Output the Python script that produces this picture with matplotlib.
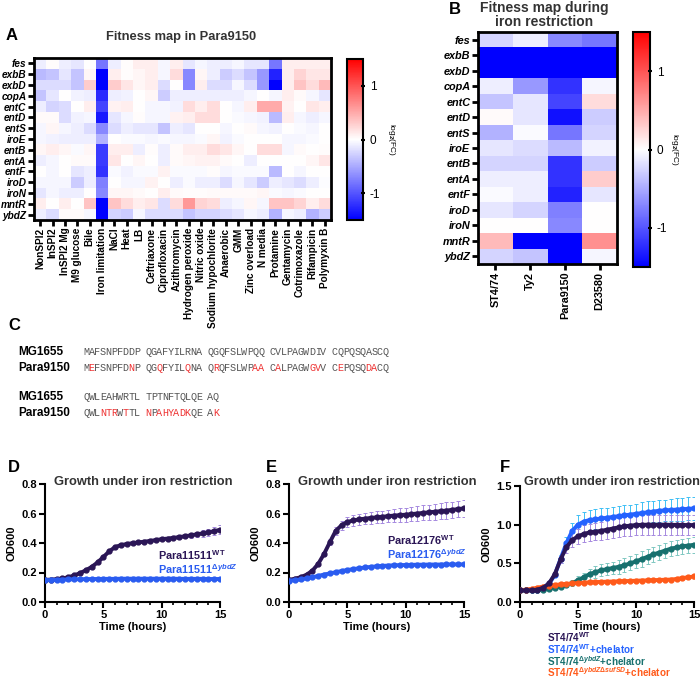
import matplotlib
matplotlib.use('Agg')
import matplotlib.pyplot as plt
import numpy as np
from matplotlib.colors import LinearSegmentedColormap
from matplotlib.ticker import MultipleLocator

plt.rcParams['font.family'] = ['Liberation Sans', 'DejaVu Sans']
plt.rcParams['mathtext.fontset'] = 'custom'
plt.rcParams['mathtext.rm'] = 'Liberation Sans:bold'
plt.rcParams['mathtext.it'] = 'Liberation Sans:italic:bold'
plt.rcParams['mathtext.bf'] = 'Liberation Sans:bold'
plt.rcParams['axes.unicode_minus'] = False

# ---- data ----
genes = ['fes', 'exbB', 'exbD', 'copA', 'entC', 'entD', 'entS', 'iroE',
         'entB', 'entA', 'entF', 'iroD', 'iroN', 'mntR', 'ybdZ']
conditions = ['NonSPI2', 'InSPI2', 'InSPI2 Mg', 'M9 glucose', 'Bile', 'Iron limitation',
              'NaCl', 'Heat', 'LB', 'Ceftriaxone', 'Ciprofloxacin', 'Azithromycin',
              'Hydrogen peroxide', 'Nitric oxide', 'Sodium hypochlorite', 'Anaerobic',
              'GMM', 'Zinc overload', 'N media', 'Protamine', 'Gentamycin',
              'Cotrimoxazole', 'Rifampicin', 'Polymyxin B']
fitness_a = [
    [-0.1, 0.02, -0.1, -0.15, 0.0, -0.8, -0.1, 0.02, 0.1, 0.1, -0.05, 0.1, -0.15, -0.05, -0.1, -0.1, -0.05, -0.15, -0.15, -0.8, 0.1, 0.1, 0.1, 0.1],
    [-0.4, -0.35, -0.15, -0.35, 0.05, -1.5, 0.1, 0.02, 0.05, 0.1, -0.05, 0.2, -0.7, 0.05, -0.1, -0.3, -0.2, -0.35, -0.6, -1.3, 0.1, 0.25, 0.15, 0.15],
    [-0.2, -0.2, -0.2, -0.35, 0.3, -1.5, 0.3, 0.15, 0.05, 0.1, -0.2, 0.0, -0.7, 0.1, -0.2, -0.2, -0.05, -0.2, -0.6, -1.5, 0.1, 0.35, 0.2, 0.4],
    [-0.35, -0.15, 0.0, -0.08, -0.1, -1.25, -0.1, -0.08, 0.0, 0.05, -0.3, -0.1, -0.1, -0.1, -0.1, -0.1, -0.1, -0.05, 0.0, -0.05, 0.1, 0.03, -0.05, -0.15],
    [-0.1, -0.25, -0.2, 0.0, 0.1, -1.1, 0.08, 0.1, 0.0, -0.05, -0.05, -0.08, 0.2, 0.1, 0.2, 0.0, -0.05, 0.1, 0.5, 0.5, 0.08, 0.0, 0.15, 0.1],
    [0.03, 0.03, -0.2, -0.08, -0.05, -1.35, -0.15, -0.05, 0.02, -0.05, -0.05, 0.08, 0.1, 0.2, 0.2, 0.0, -0.03, -0.05, -0.08, -0.4, 0.1, -0.05, -0.1, -0.05],
    [-0.05, 0.05, -0.05, -0.1, -0.2, -0.7, -0.2, -0.1, -0.15, -0.15, -0.35, -0.1, -0.15, 0.0, 0.0, -0.05, 0.0, 0.03, -0.05, -0.08, 0.0, -0.03, -0.05, 0.0],
    [-0.05, -0.08, -0.1, -0.1, -0.1, -0.45, 0.0, -0.03, -0.03, -0.05, -0.03, -0.05, -0.05, -0.03, 0.05, -0.08, -0.03, 0.0, 0.0, 0.0, -0.05, -0.05, -0.03, 0.0],
    [0.05, 0.1, 0.05, -0.03, 0.05, -1.15, 0.1, 0.1, -0.1, 0.02, -0.1, 0.03, 0.1, 0.1, 0.2, 0.15, 0.05, 0.0, 0.2, 0.2, -0.05, 0.03, 0.0, 0.02],
    [-0.1, -0.05, 0.0, 0.03, 0.03, -1.15, 0.15, 0.0, 0.05, 0.0, -0.1, 0.03, 0.05, 0.08, 0.08, 0.03, 0.0, -0.1, 0.0, 0.0, 0.0, 0.0, 0.05, 0.15],
    [0.0, -0.05, 0.0, -0.15, -0.1, -1.2, -0.03, -0.08, -0.03, -0.03, 0.08, -0.03, -0.03, -0.03, 0.02, -0.05, -0.03, -0.03, -0.03, -0.4, 0.0, -0.05, 0.0, 0.0],
    [-0.05, -0.05, -0.05, -0.3, -0.1, -0.75, 0.0, -0.05, -0.05, 0.08, 0.0, -0.1, -0.03, -0.1, -0.1, -0.2, -0.05, -0.15, -0.3, -0.1, -0.15, -0.2, -0.1, -0.02],
    [-0.15, -0.05, -0.1, -0.1, 0.0, -0.7, 0.05, 0.05, 0.03, 0.0, 0.1, 0.03, 0.02, 0.02, 0.03, 0.03, 0.03, 0.03, 0.05, -0.03, -0.05, -0.03, 0.0, 0.0],
    [0.1, 0.0, 0.1, 0.0, 0.35, -1.5, 0.35, 0.2, 0.1, 0.15, -0.2, 0.2, 0.6, 0.25, 0.2, -0.1, -0.05, 0.05, -0.05, 0.35, 0.35, 0.25, 0.1, 0.2],
    [-0.1, -0.2, 0.03, 0.03, -0.05, -1.5, -0.25, -0.3, -0.05, -0.2, -0.2, -0.2, -0.35, -0.25, -0.25, -0.2, -0.15, -0.05, -0.1, -0.45, -0.05, -0.1, -0.45, -0.3],
]
strains = ['ST4/74', 'Ty2', 'Para9150', 'D23580']
fitness_b = [
    [-0.25, -0.1, -0.7, -0.8],
    [-1.5, -1.5, -1.5, -1.5],
    [-1.5, -1.5, -1.5, -1.5],
    [-0.1, -0.6, -1.2, -0.05],
    [-0.35, -0.15, -1.1, 0.2],
    [0.03, -0.15, -1.4, -0.3],
    [-0.45, -0.03, -0.8, -0.25],
    [-0.15, -0.2, -0.4, -0.08],
    [-0.25, -0.25, -1.2, -0.3],
    [-0.1, -0.1, -1.2, 0.3],
    [-0.03, -0.1, -1.3, -0.15],
    [-0.15, -0.25, -0.75, 0.0],
    [0.0, 0.0, -0.7, 0.0],
    [0.4, -1.5, -1.5, 0.65],
    [-0.25, -0.35, -1.5, -0.05],
]

seq_mg = ['MAFSNPFDDP QGAFYILRNA QGQFSLWPQQ CVLPAGWDIV CQPQSQASCQ',
          'QWLEAHWRTL TPTNFTQLQE AQ']
seq_para = ['MEFSNPFDNP QGQFYILQNA QRQFSLWPAA CALPAGWGVV CEPQSQDACQ',
            'QWLNTRWTTL NPAHYADKQE AK']

time_h = [0.0, 0.5, 1.0, 1.5, 2.0, 2.5, 3.0, 3.5, 4.0, 4.5, 5.0, 5.5, 6.0, 6.5, 7.0, 7.5,
          8.0, 8.5, 9.0, 9.5, 10.0, 10.5, 11.0, 11.5, 12.0, 12.5, 13.0, 13.5, 14.0, 14.5, 15.0]

d_wt = [0.150, 0.152, 0.155, 0.160, 0.168, 0.180, 0.196, 0.215, 0.238, 0.268, 0.305, 0.343, 0.372, 0.386, 0.393, 0.399,
        0.404, 0.409, 0.414, 0.420, 0.426, 0.430, 0.435, 0.440, 0.446, 0.452, 0.459, 0.465, 0.472, 0.480, 0.490]
d_wt_sd = [0.004, 0.004, 0.004, 0.004, 0.004, 0.004, 0.004, 0.004, 0.005, 0.005, 0.005, 0.005, 0.005, 0.005, 0.005, 0.005,
           0.005, 0.005, 0.006, 0.006, 0.007, 0.008, 0.010, 0.012, 0.014, 0.016, 0.018, 0.021, 0.024, 0.028, 0.032]
d_ko = [0.148, 0.150, 0.151, 0.152, 0.153, 0.154, 0.155, 0.155, 0.156, 0.156, 0.157, 0.157, 0.157, 0.158, 0.158, 0.158,
        0.158, 0.158, 0.158, 0.158, 0.158, 0.158, 0.158, 0.157, 0.157, 0.157, 0.157, 0.157, 0.156, 0.156, 0.156]

e_wt = [0.150, 0.158, 0.168, 0.185, 0.212, 0.258, 0.325, 0.405, 0.482, 0.520, 0.542, 0.553, 0.560, 0.565, 0.570, 0.574,
        0.578, 0.582, 0.586, 0.589, 0.592, 0.596, 0.600, 0.604, 0.608, 0.612, 0.616, 0.620, 0.625, 0.630, 0.635]
e_wt_sd = [0.005, 0.005, 0.006, 0.007, 0.008, 0.010, 0.015, 0.020, 0.028, 0.032, 0.035, 0.036, 0.037, 0.038, 0.040, 0.041,
           0.042, 0.043, 0.045, 0.046, 0.047, 0.048, 0.050, 0.051, 0.052, 0.053, 0.054, 0.055, 0.056, 0.057, 0.058]
e_ko = [0.145, 0.148, 0.153, 0.160, 0.168, 0.177, 0.186, 0.194, 0.202, 0.210, 0.217, 0.223, 0.229, 0.234, 0.238, 0.242,
        0.245, 0.247, 0.249, 0.250, 0.251, 0.252, 0.253, 0.253, 0.254, 0.254, 0.254, 0.255, 0.255, 0.255, 0.255]

f_wt = [0.150, 0.150, 0.152, 0.160, 0.185, 0.240, 0.360, 0.550, 0.710, 0.800, 0.850, 0.880, 0.900, 0.910, 0.920, 0.935,
        0.950, 0.965, 0.978, 0.988, 0.995, 0.998, 1.000, 1.000, 1.000, 1.000, 0.998, 0.997, 0.996, 0.995, 0.995]
f_wt_sd = [0.01, 0.01, 0.01, 0.01, 0.015, 0.02, 0.03, 0.05, 0.07, 0.09, 0.10, 0.11, 0.11, 0.11, 0.12, 0.12,
           0.12, 0.12, 0.13, 0.13, 0.13, 0.13, 0.13, 0.13, 0.13, 0.13, 0.13, 0.13, 0.13, 0.13, 0.13]
f_wt_chel = [0.150, 0.150, 0.152, 0.160, 0.185, 0.235, 0.350, 0.560, 0.760, 0.920, 1.000, 1.040, 1.060, 1.070, 1.080, 1.090,
             1.100, 1.110, 1.120, 1.130, 1.140, 1.150, 1.160, 1.170, 1.180, 1.185, 1.190, 1.195, 1.200, 1.205, 1.210]
f_wt_chel_sd = [0.01, 0.01, 0.01, 0.01, 0.015, 0.02, 0.03, 0.05, 0.08, 0.10, 0.12, 0.13, 0.13, 0.13, 0.13, 0.13,
                0.13, 0.13, 0.13, 0.13, 0.13, 0.14, 0.14, 0.14, 0.14, 0.14, 0.14, 0.15, 0.15, 0.15, 0.15]
f_ko_chel = [0.150, 0.150, 0.152, 0.155, 0.160, 0.170, 0.185, 0.200, 0.220, 0.245, 0.280, 0.320, 0.360, 0.385, 0.410, 0.425,
             0.440, 0.455, 0.475, 0.500, 0.525, 0.555, 0.585, 0.615, 0.640, 0.665, 0.690, 0.705, 0.720, 0.730, 0.740]
f_ko_chel_sd = [0.01, 0.01, 0.01, 0.01, 0.01, 0.015, 0.02, 0.025, 0.03, 0.04, 0.05, 0.06, 0.07, 0.08, 0.08, 0.08,
                0.08, 0.09, 0.09, 0.09, 0.09, 0.10, 0.10, 0.10, 0.10, 0.10, 0.10, 0.10, 0.10, 0.10, 0.10]
f_dko_chel = [0.150, 0.160, 0.170, 0.185, 0.200, 0.210, 0.220, 0.228, 0.235, 0.240, 0.245, 0.250, 0.255, 0.258, 0.260, 0.263,
              0.265, 0.268, 0.270, 0.272, 0.275, 0.278, 0.280, 0.283, 0.285, 0.288, 0.290, 0.298, 0.310, 0.320, 0.330]
f_dko_chel_sd = [0.005, 0.005, 0.005, 0.005, 0.005, 0.005, 0.005, 0.005, 0.005, 0.005, 0.005, 0.005, 0.006, 0.006, 0.006, 0.006,
                 0.007, 0.007, 0.007, 0.008, 0.008, 0.008, 0.009, 0.009, 0.010, 0.012, 0.014, 0.017, 0.020, 0.025, 0.030]

# ---- layout helpers (pixel boxes) ----
W, H = 700, 678
fig = plt.figure(figsize=(7.0, 6.78), dpi=100)


def box(l, t, r, b):
    return fig.add_axes([l / W, 1 - b / H, (r - l) / W, (b - t) / H])


def ftext(x, y, s, **kw):
    return fig.text(x / W, 1 - y / H, s, **kw)


cmap = LinearSegmentedColormap.from_list('bwr_pz', ['#0000ff', '#ffffff', '#ff0000'])
title_col = '#333333'


def heatmap(ax, cax, data, xlabels, ylabels, lab_size, cb_pad):
    im = ax.pcolormesh(np.array(data), cmap=cmap, vmin=-1.5, vmax=1.5)
    ax.set_xlim(0, len(xlabels))
    ax.set_ylim(len(ylabels), 0)
    ax.set_xticks(np.arange(len(xlabels)) + 0.5)
    ax.set_xticklabels(xlabels, rotation=90, fontsize=lab_size, fontweight='bold')
    ax.set_yticks(np.arange(len(ylabels)) + 0.5)
    ax.set_yticklabels(ylabels, fontsize=lab_size, fontweight='bold', style='italic')
    ax.tick_params(length=4, width=2, pad=1.5)
    for sp in ax.spines.values():
        sp.set_linewidth(2)
    cb = fig.colorbar(im, cax=cax)
    cb.set_ticks([-1, 0, 1])
    cb.ax.tick_params(labelsize=8.5, length=3, width=1.5, direction='inout')
    cb.outline.set_linewidth(1.5)
    cb.set_label(r'log$_2$(FC)', rotation=270, fontsize=6, labelpad=cb_pad,
                 fontweight='normal')
    return cb


# ---- A ----
axA = box(34, 58, 331, 220)
caxA = box(347, 59, 363, 220)
heatmap(axA, caxA, fitness_a, conditions, genes, 7.2, 12)
ftext(12, 35, 'A', fontsize=12, fontweight='bold', va='center', ha='center')
ftext(181, 37, 'Fitness map in Para9150', fontsize=9.3, fontweight='bold',
      color=title_col, ha='center', va='center')

# ---- B ----
axB = box(478, 32, 617, 264)
caxB = box(633, 32, 650, 267)
heatmap(axB, caxB, fitness_b, strains, genes, 7.8, 9)
ftext(455, 10, 'B', fontsize=12, fontweight='bold', va='center', ha='center')
ftext(544, 15, 'Fitness map during\niron restriction', fontsize=10, fontweight='bold',
      color=title_col, ha='center', va='center', linespacing=1.0)

# ---- C ----
ftext(8, 325, 'C', fontsize=12, fontweight='bold', va='center')
seq_x0, char_w = 83, 5.65
row_y = [(352, 368), (397, 413)]
for (ym, yp), smg, spa in zip(row_y, seq_mg, seq_para):
    ftext(18, ym, 'MG1655', fontsize=8.5, fontweight='bold', va='center')
    ftext(18, yp, 'Para9150', fontsize=8.5, fontweight='bold', va='center')
    for i, (cm, cp) in enumerate(zip(smg, spa)):
        if cm == ' ':
            continue
        ftext(seq_x0 + i * char_w, ym, cm, fontsize=7.3, family='Liberation Mono',
              color='#555555', va='center')
        ftext(seq_x0 + i * char_w, yp, cp, fontsize=7.3, family='Liberation Mono',
              color='#555555' if cp == cm else '#ee3333', va='center')

# ---- growth curves ----
wt_col, wt_err = '#2b1656', '#a68ae0'
ko_col = '#2a5cf0'


def growth(ax, series, ymax, ystep):
    for y, sd, col, ecol in series:
        if sd is not None:
            ax.errorbar(time_h, y, yerr=sd, fmt='none', ecolor=ecol, elinewidth=0.7,
                        capsize=1.5, capthick=0.7, zorder=2)
        ax.plot(time_h, y, '-o', color=col, lw=2.8, ms=3.5, zorder=3)
    ax.set_xlim(0, 15)
    ax.set_ylim(0, ymax)
    ax.xaxis.set_major_locator(MultipleLocator(5))
    ax.xaxis.set_minor_locator(MultipleLocator(1))
    ax.yaxis.set_major_locator(MultipleLocator(ystep))
    for s in ['top', 'right']:
        ax.spines[s].set_visible(False)
    for s in ['left', 'bottom']:
        ax.spines[s].set_linewidth(1.5)
    ax.tick_params(which='major', length=4, width=1.5, labelsize=8, pad=2)
    ax.tick_params(which='minor', length=2.5, width=1.2)
    for lab in ax.get_xticklabels() + ax.get_yticklabels():
        lab.set_fontweight('bold')
    ax.set_xlabel('Time (hours)', fontsize=8, fontweight='bold', labelpad=1)
    ax.set_ylabel('OD600', fontsize=8, fontweight='bold', labelpad=3)


growth_title = 'Growth under iron restriction'

axD = box(45, 484, 220, 602)
growth(axD, [(d_wt, d_wt_sd, wt_col, wt_err), (d_ko, None, ko_col, ko_col)], 0.8, 0.2)
ftext(8, 467, 'D', fontsize=12, fontweight='bold', va='center')
ftext(143, 482, growth_title, fontsize=9.3, fontweight='bold',
      color=title_col, ha='center', va='center')
ftext(158, 555, r'Para11511$^{\mathrm{WT}}$', fontsize=7.8, fontweight='bold', color=wt_col, va='center')
ftext(158, 569, r'Para11511$^{\Delta ybdZ}$', fontsize=7.8, fontweight='bold', color=ko_col, va='center')

axE = box(289, 484, 464, 602)
growth(axE, [(e_wt, e_wt_sd, wt_col, wt_err), (e_ko, None, ko_col, ko_col)], 0.8, 0.2)
ftext(266, 467, 'E', fontsize=12, fontweight='bold', va='center')
ftext(387, 482, growth_title, fontsize=9.3, fontweight='bold',
      color=title_col, ha='center', va='center')
ftext(387, 540, r'Para12176$^{\mathrm{WT}}$', fontsize=7.8, fontweight='bold', color=wt_col, va='center')
ftext(387, 554, r'Para12176$^{\Delta ybdZ}$', fontsize=7.8, fontweight='bold', color=ko_col, va='center')

axF = box(520, 486, 694, 602)
chel_col, chel_err = '#2563ff', '#3ec0f5'
teal_col, teal_err = '#17706e', '#80c8c2'
org_col, org_err = '#ff5a1a', '#ffa585'
growth(axF, [(f_wt_chel, f_wt_chel_sd, chel_col, chel_err),
             (f_ko_chel, f_ko_chel_sd, teal_col, teal_err),
             (f_dko_chel, f_dko_chel_sd, org_col, org_err),
             (f_wt, f_wt_sd, wt_col, wt_err)], 1.5, 0.5)
ftext(500, 467, 'F', fontsize=12, fontweight='bold', va='center')
ftext(612, 482, growth_title, fontsize=9.1, fontweight='bold',
      color=title_col, ha='center', va='center')
legF = [(r'ST4/74$^{\mathrm{WT}}$', wt_col),
        (r'ST4/74$^{\mathrm{WT}}$+chelator', chel_col),
        (r'ST4/74$^{\Delta ybdZ}$+chelator', teal_col),
        (r'ST4/74$^{\Delta ybdZ\Delta sufSD}$+chelator', org_col)]
for k, (s, c) in enumerate(legF):
    ftext(547, 637 + k * 11.8, s, fontsize=7.1, fontweight='bold', color=c, va='center')

fig.savefig('out.png', dpi=100)
